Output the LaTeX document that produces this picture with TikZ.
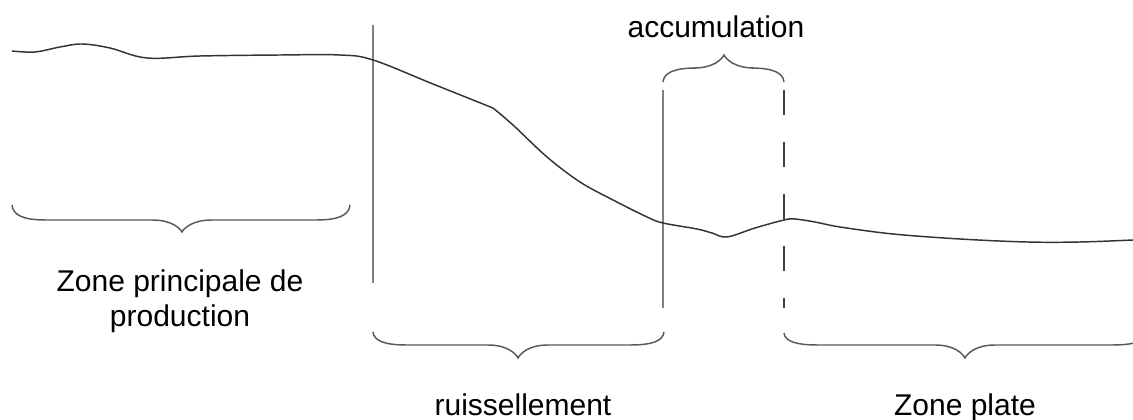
\documentclass[tikz,border=0pt]{standalone}
\usepackage{fontspec}
\setmainfont{Liberation Sans}
\begin{document}
\begin{tikzpicture}[x=0.75pt,y=-0.75pt,
  profile/.style={draw=black!80,line width=1.1pt,line join=round},
  divider/.style={draw=black!50,line width=1.4pt},
  dashdivider/.style={draw=black!75,line width=1.1pt,dash pattern=on 18.75pt off 20.25pt},
  bracestyle/.style={draw=black!65,line width=1.1pt},
  lbl/.style={font=\fontsize{22.5}{26}\selectfont,anchor=base,inner sep=0pt,text=black}]
\useasboundingbox (0,0) rectangle (1133,420);
\clip (0,0) rectangle (1133,420);
\fill[white] (0,0) rectangle (1133,420);
% brace: #1 x1, #2 x2, #3 xm, #4 y ends, #5 y flat, #6 y tip
\newcommand\zonebrace[6]{%
  \draw[bracestyle] (#1,#4) .. controls (#1+1,{#4+0.7*(#5-#4)}) and (#1+12,#5) .. (#1+34,#5)
    -- (#3-30,#5) .. controls (#3-10,#5) and (#3-2,{#6-0.3*(#6-#5)}) .. (#3,#6)
    .. controls (#3+2,{#6-0.3*(#6-#5)}) and (#3+10,#5) .. (#3+30,#5)
    -- (#2-34,#5) .. controls (#2-12,#5) and (#2-1,{#4+0.7*(#5-#4)}) .. (#2,#4);}
% dividers
\coordinate (v1t) at (373,25);  \coordinate (v1b) at (373,283);
\coordinate (v2t) at (663,90);  \coordinate (v2b) at (663,308);
\coordinate (v3t) at (784,90);  \coordinate (v3b) at (784,308);
\draw[divider] (v1t) -- (v1b);
\draw[divider] (v2t) -- (v2b);
\draw[dashdivider] (v3t) -- (v3b);
% terrain profile
\draw[profile] plot[smooth,tension=0.6] coordinates {(12,51) (35,52) (60,47) (82,44) (110,48) (147,58) (200,56) (280,55) (340,55) (373,60) (433,84) (493,108)};
\draw[profile] plot[smooth,tension=0.55] coordinates {(493,108) (513,125) (547,157) (580,182) (613,200) (647,217) (663,223) (697,229) (712,233) (727,237) (755,228) (784,220) (795,219) (815,222) (840,227) (893,234) (960,239) (1027,242) (1080,242) (1133,240)};
% braces
\zonebrace{12}{350}{182}{205}{220}{232}
\zonebrace{373}{664}{518}{332}{345}{358}
\zonebrace{784}{1146}{965}{333}{345}{358}
\zonebrace{663}{784}{724}{82}{68}{55}
% labels
\node[lbl] (acc) at (716,38) {accumulation};
\node[lbl] (prod1) at (180,292) {Zone principale de};
\node[lbl] (prod2) at (180,327) {production};
\node[lbl] (ruis) at (523,416) {ruissellement};
\node[lbl] (plate) at (965,416) {Zone plate};
\end{tikzpicture}
\end{document}
